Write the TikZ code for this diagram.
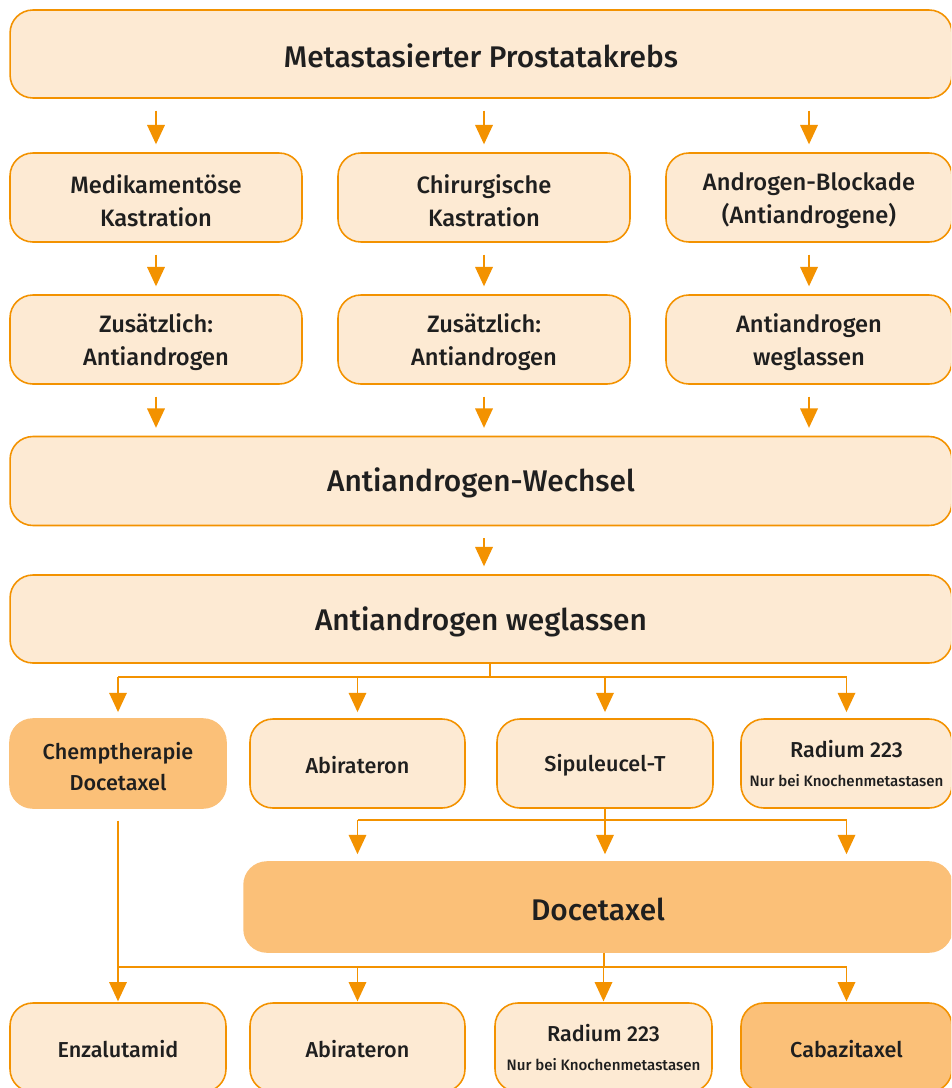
\documentclass[tikz,border=0pt]{standalone}
\usepackage{fontspec}
\setmainfont{Fira Sans}[BoldFont={Fira Sans Medium}]
\usetikzlibrary{arrows.meta}

\definecolor{boxfill}{HTML}{FDEAD3}
\definecolor{darkfill}{HTML}{FBC078}
\definecolor{lineorange}{HTML}{F39200}
\definecolor{txt}{HTML}{1F1F1F}

\tikzset{
  box/.style={rectangle, rounded corners=13pt, draw=lineorange, line width=0.9pt, fill=boxfill,
    align=center, inner sep=2pt, minimum height=1.78cm, text=txt,
    font=\fontsize{13.5}{18.7}\selectfont\bfseries, execute at begin node={\rule{0pt}{0.95em}}},
  bigbox/.style={box, minimum width=18.84cm, font=\fontsize{17}{20}\selectfont\bfseries,
    execute at begin node={}},
  optbox/.style={box, font=\fontsize{12.3}{17.6}\selectfont\bfseries},
  darkbox/.style={fill=darkfill, draw=darkfill},
  link/.style={draw=lineorange, line width=0.9pt},
  arr/.style={link, -{Triangle[length=11pt, width=10pt]}},
}
\newcommand{\notetext}[1]{{\fontsize{8.6}{10}\selectfont #1}}
\newcommand{\lineup}{\rule{0pt}{1.05em}}

\begin{document}
\begin{tikzpicture}[x=0.02cm, y=-0.02cm]
    \useasboundingbox (0,0) rectangle (951,1088);
    \clip (0,0) rectangle (951,1088);

    % Top box
    \node[bigbox, minimum height=1.76cm] (top) at (481,54) {Metastasierter Prostatakrebs};

    % First therapy row
    \node[box, minimum width=5.84cm] (r2a) at (156,197.5) {\lineup Medikamentöse\\Kastration};
    \node[box, minimum width=5.84cm] (r2b) at (484,197.5) {\lineup Chirurgische\\Kastration};
    \node[box, minimum width=5.72cm] (r2c) at (809,197.5) {\lineup Androgen-Blockade\\(Antiandrogene)};

    % Second therapy row
    \node[box, minimum width=5.84cm] (r3a) at (156,339.5) {\lineup Zusätzlich:\\Antiandrogen};
    \node[box, minimum width=5.84cm] (r3b) at (484,339.5) {\lineup Zusätzlich:\\Antiandrogen};
    \node[box, minimum width=5.72cm] (r3c) at (809,339.5) {\lineup Antiandrogen\\weglassen};

    % Wide boxes
    \node[bigbox] (wechsel) at (481,481) {Antiandrogen-Wechsel};
    \node[bigbox, minimum height=1.76cm] (wegl) at (481,619) {\rule{0pt}{1em}Antiandrogen weglassen};

    % Options after weglassen
    \node[optbox, darkbox, minimum width=4.32cm] (r5a) at (118,763.5) {\lineup Chemptherapie\\Docetaxel};
    \node[optbox, minimum width=4.3cm] (r5b) at (357.5,763.5) {Abirateron};
    \node[optbox, minimum width=4.32cm] (r5c) at (605,763.5) {Sipuleucel-T};
    \node[optbox, minimum width=4.22cm] (r5d) at (846.5,763.5) {Radium 223\\[-1pt]\notetext{Nur bei Knochenmetastasen}};

    % Docetaxel
    \node[box, darkbox, minimum width=14.16cm, minimum height=1.8cm, font=\fontsize{17}{20}\selectfont\bfseries] (doc) at (598,907) {Docetaxel};

    % Last row
    \node[optbox, minimum width=4.32cm] (r7a) at (118,1047.5) {Enzalutamid};
    \node[optbox, minimum width=4.3cm] (r7b) at (357.5,1047.5) {Abirateron};
    \node[optbox, minimum width=4.34cm] (r7c) at (603.5,1047.5) {Radium 223\\[-1pt]\notetext{Nur bei Knochenmetastasen}};
    \node[optbox, minimum width=4.22cm, fill=darkfill] (r7d) at (846.5,1047.5) {Cabazitaxel};

    % Short arrows
    \foreach \n in {r2a,r2b,r2c}
        \draw[arr, shorten <=6.8pt, shorten >=4.5pt] (top.south -| \n) -- (\n.north);
    \foreach \a/\b in {r2a/r3a, r2b/r3b, r2c/r3c}
        \draw[arr, shorten <=6.8pt, shorten >=4.5pt] (\a.south) -- (\b.north);
    \foreach \n in {r3a,r3b,r3c}
        \draw[arr, shorten <=6.8pt, shorten >=4.5pt] (\n.south) -- (\n |- wechsel.north);
    \draw[arr, shorten <=6.8pt, shorten >=4.5pt] (wechsel.south -| r2b) -- (wegl.north -| r2b);

    % Split after weglassen
    \coordinate (s1) at (490,677);
    \coordinate (s2) at (604,820);
    \coordinate (s3) at (604,967);
    \draw[link] (wegl.south -| s1) -- (s1);
    \draw[link] (s1 -| r5a) -- (s1 -| r5d);
    \foreach \n in {r5a,r5b,r5c,r5d}
        \draw[arr, shorten >=3.5pt] (s1 -| \n) -- (\n.north);

    % Split to Docetaxel
    \draw[link] (r5c.south) -- (r5c |- s2);
    \draw[link] (s2 -| r5b) -- (s2 -| r5d);
    \foreach \n in {r5b,r5c,r5d}
        \draw[arr, shorten >=4pt] (s2 -| \n) -- (\n |- doc.north);

    % Split to last row
    \draw[link, shorten <=6.8pt] (r5a.south) -- (r5a |- s3);
    \draw[link] (doc.south -| s3) -- (s3);
    \draw[link] (s3 -| r7a) -- (s3 -| r7d);
    \foreach \n in {r7a,r7b,r7c,r7d}
        \draw[arr, shorten >=0.5pt] (s3 -| \n) -- (\n.north);
\end{tikzpicture}
\end{document}
